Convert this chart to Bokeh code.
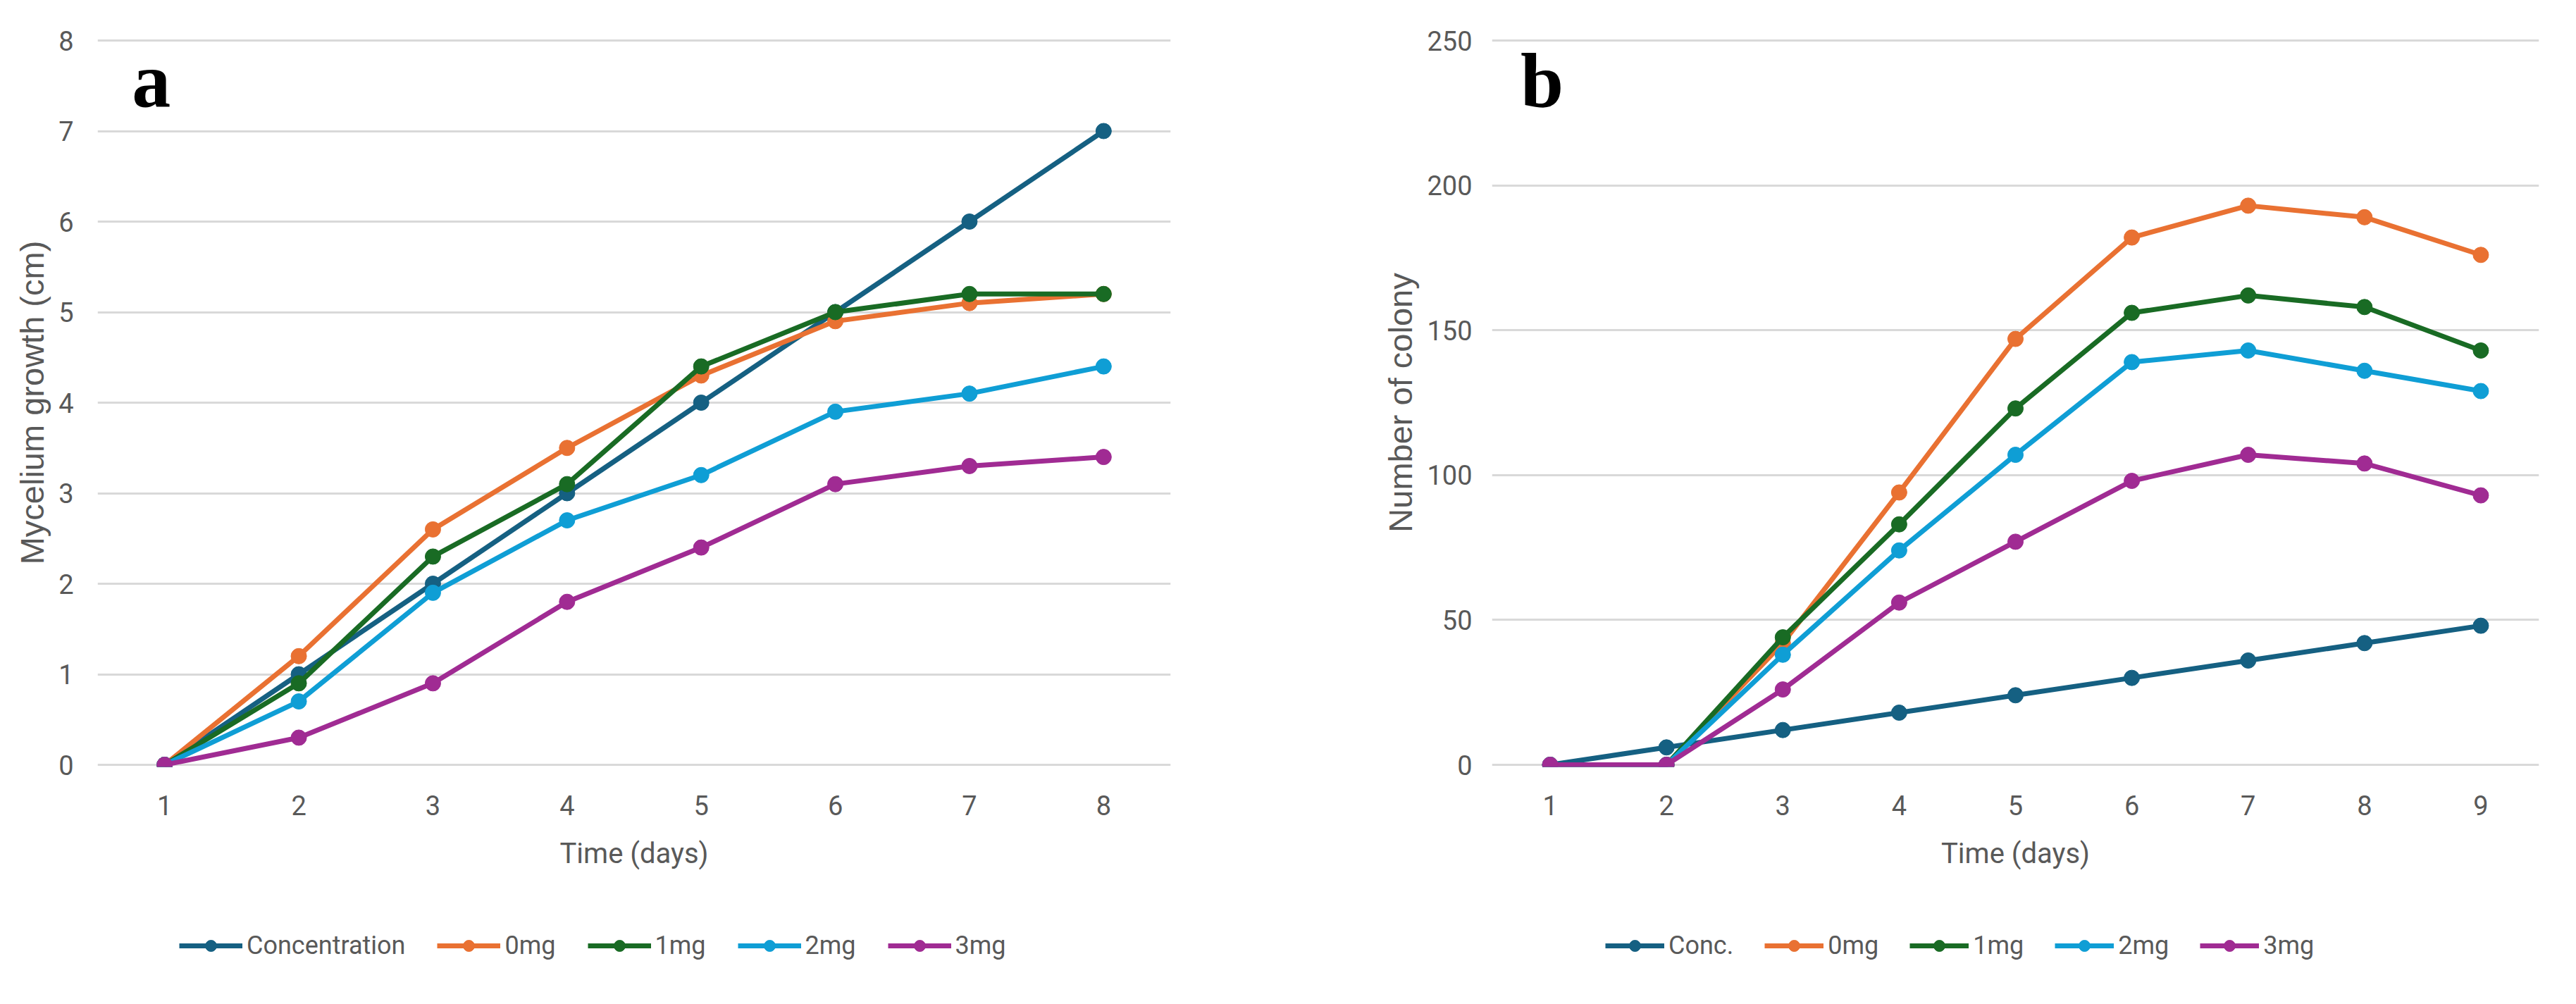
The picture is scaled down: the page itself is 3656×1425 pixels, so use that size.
from bokeh.plotting import figure
from bokeh.models import FixedTicker, Legend, LegendItem, Label, Range1d
from bokeh.layouts import row, column
from bokeh.embed import file_html
from bokeh.resources import INLINE

# ---- data: chart a (mycelium growth) ----
days_a = [1, 2, 3, 4, 5, 6, 7, 8]
conc_a = [0, 1, 2, 3, 4, 5, 6, 7]
mg0_a = [0, 1.2, 2.6, 3.5, 4.3, 4.9, 5.1, 5.2]
mg1_a = [0, 0.9, 2.3, 3.1, 4.4, 5.0, 5.2, 5.2]
mg2_a = [0, 0.7, 1.9, 2.7, 3.2, 3.9, 4.1, 4.4]
mg3_a = [0, 0.3, 0.9, 1.8, 2.4, 3.1, 3.3, 3.4]
names_a = ["Concentration", "0mg", "1mg", "2mg", "3mg"]
yticks_a = [0, 1, 2, 3, 4, 5, 6, 7, 8]

# ---- data: chart b (number of colony) ----
days_b = [1, 2, 3, 4, 5, 6, 7, 8, 9]
conc_b = [0, 6, 12, 18, 24, 30, 36, 42, 48]
mg0_b = [0, 0, 42, 94, 147, 182, 193, 189, 176]
mg1_b = [0, 0, 44, 83, 123, 156, 162, 158, 143]
mg2_b = [0, 0, 38, 74, 107, 139, 143, 136, 129]
mg3_b = [0, 0, 26, 56, 77, 98, 107, 104, 93]
names_b = ["Conc.", "0mg", "1mg", "2mg", "3mg"]
yticks_b = [0, 50, 100, 150, 200, 250]

colors = ["#156082", "#E97132", "#196B24", "#0F9ED5", "#A02B93"]

GRAY = "#595959"
NARROW = "Roboto"
FRAME_H = 1028
PAD_PX = 3
TOP = 57
BOTTOM = 190
LEG_H = 120
LINE_W = 7
MARK = 22


def make_chart(days, series, names, yticks, ytitle, letter, letter_pos,
               frame_w, border_l, border_r, ylab_standoff, legend_x,
               legend_spacing, glyph_w):
    ymin, ymax = yticks[0], yticks[-1]
    pad = (ymax - ymin) * PAD_PX / FRAME_H
    p = figure(frame_width=frame_w, frame_height=FRAME_H + 2 * PAD_PX,
               min_border_left=border_l, min_border_right=border_r,
               min_border_top=TOP - PAD_PX, min_border_bottom=BOTTOM,
               x_range=Range1d(0.5, len(days) + 0.5),
               y_range=Range1d(ymin - pad, ymax + pad),
               output_backend="svg", toolbar_location=None)
    p.outline_line_color = None
    p.background_fill_color = "white"
    p.border_fill_color = "white"
    p.xgrid.grid_line_color = None
    p.ygrid.grid_line_color = "#D9D9D9"
    p.ygrid.grid_line_width = 3
    p.xaxis.ticker = FixedTicker(ticks=days)
    p.yaxis.ticker = FixedTicker(ticks=yticks)
    for ax in (p.xaxis, p.yaxis):
        ax.axis_line_color = None
        ax.major_tick_line_color = None
        ax.minor_tick_line_color = None
        ax.major_label_text_color = GRAY
        ax.major_label_text_font = NARROW
        ax.major_label_text_font_size = "38px"
        ax.axis_label_text_color = GRAY
        ax.axis_label_text_font_style = "normal"
    p.xaxis.axis_label = "Time (days)"
    p.xaxis.axis_label_text_font = NARROW
    p.xaxis.axis_label_text_font_size = "40px"
    p.xaxis.major_label_standoff = 34
    p.xaxis.axis_label_standoff = 28
    p.yaxis.axis_label = ytitle
    p.yaxis.axis_label_text_font = "Liberation Sans"
    p.yaxis.axis_label_text_font_size = "47px"
    p.yaxis.major_label_standoff = ylab_standoff
    p.yaxis.axis_label_standoff = 8

    for ys, c in zip(series, colors):
        p.line(days, ys, line_color=c, line_width=LINE_W, line_join="round")
        p.scatter(days, ys, marker="circle", size=MARK, fill_color=c,
                  line_color=c)

    p.add_layout(Label(x=letter_pos[0], y=letter_pos[1], text=letter,
                       text_font="Liberation Serif", text_font_style="bold",
                       text_font_size="110px", text_color="black",
                       text_align="center", text_baseline="alphabetic"))

    # legend strip under the chart: same series, drawn outside its view,
    # so only the legend entries show
    fig_w = border_l + frame_w + border_r
    lf = figure(frame_width=fig_w, frame_height=LEG_H, min_border=0,
                x_range=Range1d(-3, -2), y_range=Range1d(-3, -2),
                output_backend="svg", toolbar_location=None)
    lf.axis.visible = False
    lf.grid.visible = False
    lf.outline_line_color = None
    items = []
    for ys, name, c in zip(series, names, colors):
        lr = lf.line(days, ys, line_color=c, line_width=LINE_W)
        sr = lf.scatter(days, ys, marker="circle", size=MARK, fill_color=c,
                        line_color=c)
        items.append(LegendItem(label=name, renderers=[lr, sr]))
    leg = Legend(items=items, orientation="horizontal",
                 location=(legend_x, 35), glyph_width=glyph_w,
                 glyph_height=40, label_standoff=6, spacing=legend_spacing,
                 padding=0, margin=0, border_line_color=None,
                 background_fill_alpha=0, label_text_font=NARROW,
                 label_text_font_size="36px", label_text_color=GRAY)
    lf.add_layout(leg, "center")
    return column(p, lf, spacing=0)


ca = make_chart(days_a, [conc_a, mg0_a, mg1_a, mg2_a, mg3_a], names_a,
                yticks_a, "Mycelium growth (cm)", "a", (0.9, 7.564),
                1523, 138, 231, 28, 254, 45, 90)
cb = make_chart(days_b, [conc_b, mg0_b, mg1_b, mg2_b, mg3_b], names_b,
                yticks_b, "Number of colony", "b", (0.93, 235.9),
                1486, 225, 29, 22, 386, 44, 84)

layout = row(ca, cb, spacing=0)
open("out.html", "w").write(file_html(layout, INLINE))
